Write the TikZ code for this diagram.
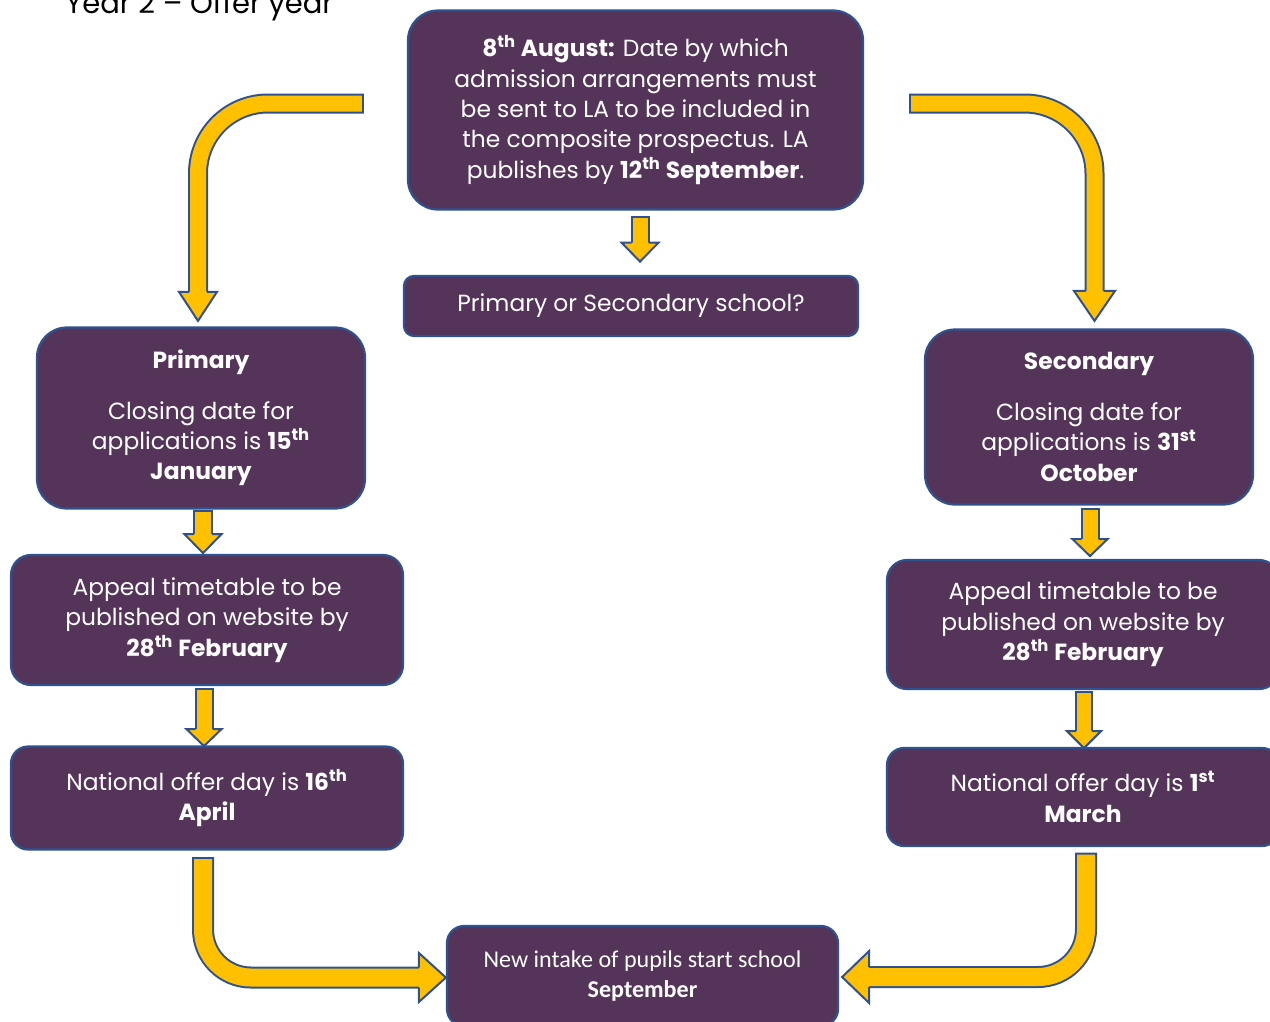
\documentclass[tikz,border=0pt]{standalone}
\usepackage{fontspec}
\setmainfont{Poppins}
\newfontfamily\calibri{Carlito}
\usetikzlibrary{calc}
\definecolor{boxfill}{HTML}{553459}
\definecolor{boxline}{HTML}{2F528F}
\definecolor{arrowfill}{HTML}{FFC000}
\newcommand{\pxu}{0.02cm}
\tikzset{
  box/.style={draw=boxline, fill=boxfill, line width=2.2*\pxu, text=white,
    align=center, inner sep=0pt, font=\fontsize{13.3}{17.3}\selectfont},
  shaft/.style={draw=arrowfill, line width=#1*\pxu-4*\pxu, shorten <=2*\pxu,
    preaction={draw=boxline, line width=#1*\pxu, shorten <=0pt}},
  pics/tip/.style args={#1/#2/#3}{code={
    \filldraw[fill=arrowfill, draw=boxline, line width=2*\pxu, line join=miter]
      (-#1,0) -- (-#2,0) -- (0,#3) -- (#2,0) -- (#1,0);}}
}
\begin{document}
\begin{tikzpicture}[x=0.02cm, y=-0.02cm]
\useasboundingbox (0,0) rectangle (1270,1021);
\clip (0,0) rectangle (1270,1021);
% title, cut off at the top
\node[anchor=base west, inner sep=0pt, font=\fontsize{16.5}{19}\selectfont] (title) at (65,13) {Year 2 – Offer year};
% boxes
\node[box, minimum width=455*\pxu, minimum height=199*\pxu, rounded corners=30*\pxu] (aug) at (635.5,110)
  {\textbf{8\textsuperscript{th} August:} Date by which\\ admission arrangements must\\ be sent to LA to be included in\\ the composite prospectus. LA\\ publishes by \textbf{12\textsuperscript{th} September}.};
\node[box, minimum width=454*\pxu, minimum height=60*\pxu, rounded corners=10*\pxu] (choice) at (631,306)
  {Primary or Secondary school?};
\node[box, minimum width=328*\pxu, minimum height=181*\pxu, rounded corners=30*\pxu] (prim) at (201,418)
  {\textbf{Primary}\\[0.4cm] Closing date for\\ applications is \textbf{15\textsuperscript{th}}\\ \textbf{January}};
\node[box, minimum width=328*\pxu, minimum height=175*\pxu, rounded corners=30*\pxu] (sec) at (1089,417)
  {\textbf{Secondary}\\[0.4cm] Closing date for\\ applications is \textbf{31\textsuperscript{st}}\\ \textbf{October}};
\node[box, minimum width=392*\pxu, minimum height=130*\pxu, rounded corners=20*\pxu] (appL) at (207,620)
  {Appeal timetable to be\\ published on website by\\ \textbf{28\textsuperscript{th} February}};
\node[box, minimum width=392*\pxu, minimum height=129*\pxu, rounded corners=20*\pxu] (appR) at (1083,624.5)
  {Appeal timetable to be\\ published on website by\\ \textbf{28\textsuperscript{th} February}};
\node[box, minimum width=392*\pxu, minimum height=103*\pxu, rounded corners=17*\pxu] (offL) at (207,798)
  {National offer day is \textbf{16\textsuperscript{th}}\\ \textbf{April}};
\node[box, minimum width=392*\pxu, minimum height=98*\pxu, rounded corners=17*\pxu] (offR) at (1083,797)
  {National offer day is \textbf{1\textsuperscript{st}}\\ \textbf{March}};
\node[box, minimum width=391*\pxu, minimum height=100*\pxu, rounded corners=17*\pxu,
  font=\calibri\fontsize{13.7}{17.6}\selectfont] (intake) at (642.5,976)
  {New intake of pupils start school\\ \textbf{September}};
% straight arrows
\draw[shaft=19] ($(aug.south)+(4.5,5.5)$) -- ++(0,26.5) coordinate (h1);
\pic at (h1) {tip=8.5/18.5/19};
\draw[shaft=20] ($(prim.south)+(2,0.5)$) -- ++(0,24) coordinate (h2);
\pic at (h2) {tip=9/18.5/19};
\draw[shaft=19] ($(appL.south)+(-3,2)$) -- ++(0,41) coordinate (h3);
\pic at (h3) {tip=8.5/17.5/17};
\draw[shaft=19] ($(sec.south)+(1,2.5)$) -- ++(0,31) coordinate (h4);
\pic at (h4) {tip=8.5/17.5/17};
\draw[shaft=18] ($(appR.south)+(1,1)$) -- ++(0,40) coordinate (h5);
\pic at (h5) {tip=8/17/17};
% bent arrows
\draw[shaft=20, rounded corners=70*\pxu] ($(aug.west)+(-43,-6.5)$) -| ($(prim.north)+(-3,-34.5)$) coordinate (h6);
\pic at (h6) {tip=9/19/29};
\draw[shaft=20, rounded corners=70*\pxu] ($(aug.east)+(45,-6.5)$) -| ($(sec.north)+(5.5,-37.5)$) coordinate (h7);
\pic at (h7) {tip=9/20.5/30};
\draw[shaft=22, rounded corners=48*\pxu] ($(offL.south)+(-4,6.5)$) |- ($(intake.west)+(-27,1.5)$) coordinate (h8);
\pic[rotate=90] at (h8) {tip=10/24.5/27};
\draw[shaft=22, rounded corners=48*\pxu] ($(offR.south)+(3,5.5)$) |- ($(intake.east)+(30,1)$) coordinate (h9);
\pic[rotate=-90] at (h9) {tip=10/26/27};
\end{tikzpicture}
\end{document}
